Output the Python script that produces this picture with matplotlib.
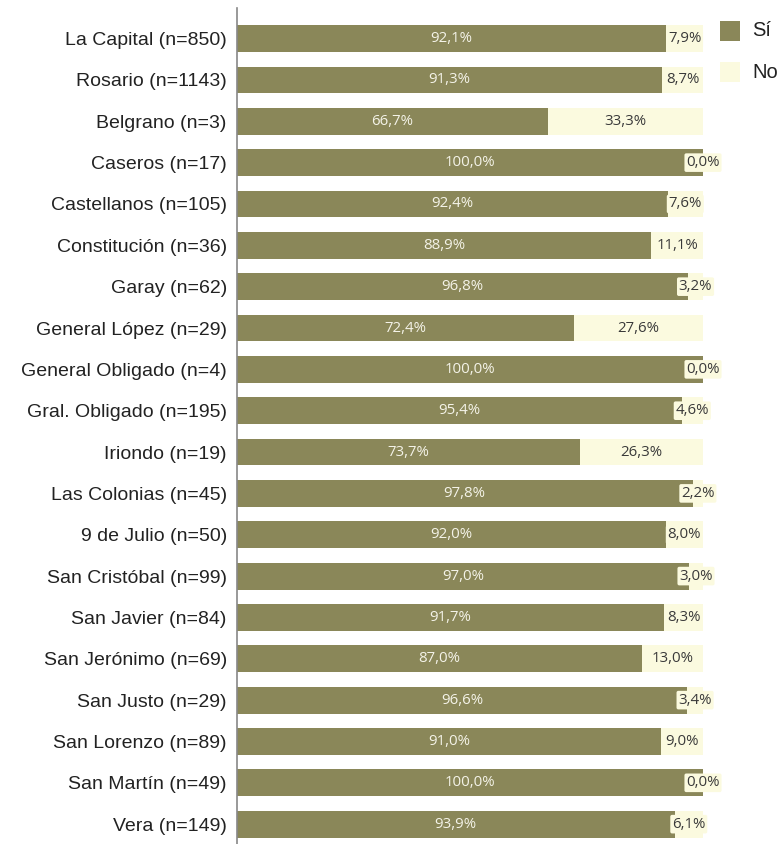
import matplotlib
matplotlib.use("Agg")
import matplotlib.pyplot as plt
from matplotlib.patches import Rectangle

categories = [
    "La Capital (n=850)", "Rosario (n=1143)", "Belgrano (n=3)", "Caseros (n=17)",
    "Castellanos (n=105)", "Constitución (n=36)", "Garay (n=62)",
    "General López (n=29)", "General Obligado (n=4)", "Gral. Obligado (n=195)",
    "Iriondo (n=19)", "Las Colonias (n=45)", "9 de Julio (n=50)",
    "San Cristóbal (n=99)", "San Javier (n=84)", "San Jerónimo (n=69)",
    "San Justo (n=29)", "San Lorenzo (n=89)", "San Martín (n=49)", "Vera (n=149)",
]
si_values = [92.1, 91.3, 66.7, 100.0, 92.4, 88.9, 96.8, 72.4, 100.0, 95.4,
             73.7, 97.8, 92.0, 97.0, 91.7, 87.0, 96.6, 91.0, 100.0, 93.9]
no_values = [7.9, 8.7, 33.3, 0.0, 7.6, 11.1, 3.2, 27.6, 0.0, 4.6,
             26.3, 2.2, 8.0, 3.0, 8.3, 13.0, 3.4, 9.0, 0.0, 6.1]
series_names = ["Sí", "No"]

SI_COLOR = "#8a8759"
NO_COLOR = "#fbfadf"

W, H = 781, 844
fig = plt.figure(figsize=(W / 100, H / 100), dpi=100)
ax = fig.add_axes([236.5 / W, 0.0, (703 - 236.5) / W, 836 / H])

y = list(range(len(categories)))
ax.barh(y, si_values, height=0.65, color=SI_COLOR, linewidth=0)
ax.barh(y, no_values, left=si_values, height=0.65, color=NO_COLOR, linewidth=0)

def fmt(v):
    return f"{v:.1f}".replace(".", ",") + "%"

for i, (s, n) in enumerate(zip(si_values, no_values)):
    ax.text(s / 2, i, fmt(s), ha="center", va="center", color="#f4f3e8",
            fontsize=10.8, family=["Open Sans", "DejaVu Sans"])
    ax.text(s + n / 2, i, fmt(n), ha="center", va="center", color="#3a3a3a",
            fontsize=10.8, family=["Open Sans", "DejaVu Sans"],
            bbox=dict(boxstyle="round,pad=0.12", fc=NO_COLOR, ec="none"))

ax.set_xlim(0, 100)
ax.set_ylim(19.48, -0.74)
ax.set_yticks(y)
ax.set_yticklabels(categories, fontsize=14, family=["Liberation Sans", "DejaVu Sans"],
                   color="#222222")
ax.tick_params(axis="y", length=0, pad=7)
ax.set_xticks([])
for side in ["top", "right", "bottom"]:
    ax.spines[side].set_visible(False)
ax.spines["left"].set_color("#888888")
ax.spines["left"].set_linewidth(1.2)

# legend
for k, (name, col) in enumerate(zip(series_names, [SI_COLOR, NO_COLOR])):
    yc = 31 + k * 41
    fig.patches.append(Rectangle((720 / W, 1 - (yc + 10) / H), 20 / W, 20 / H,
                                 transform=fig.transFigure, color=col, linewidth=0))
    fig.text(752 / W, 1 - yc / H, name, ha="left", va="center", fontsize=14.5,
             family=["Liberation Sans", "DejaVu Sans"], color="#222222")

fig.savefig("out.png", dpi=100)
